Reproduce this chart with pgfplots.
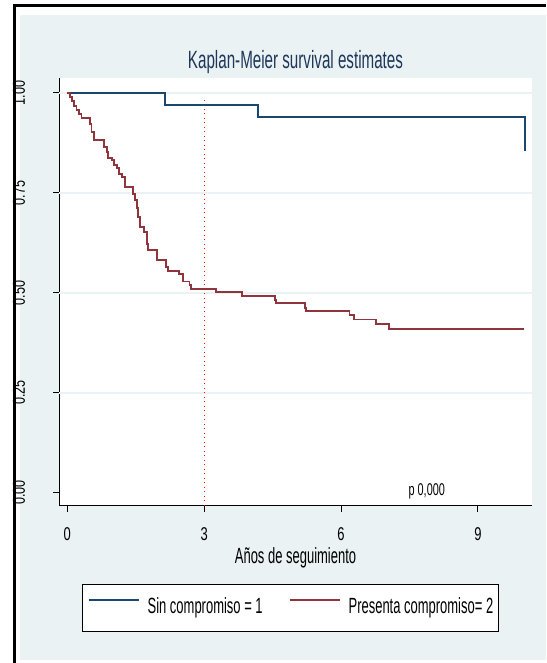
\documentclass[border=0pt]{standalone}
\usepackage{fontspec}
\usepackage{graphicx}
\usepackage{pgfplots}
\pgfplotsset{compat=1.18}
\setmainfont{Liberation Sans}
\newfontfamily\tkfont{Liberation Sans}[FakeStretch=0.70]
\newfontfamily\txfont{Liberation Sans}[FakeStretch=0.59]
\newfontfamily\ttfont{Liberation Sans}[FakeStretch=0.607]
\newfontfamily\pfont{Liberation Sans}[FakeStretch=0.64]
\definecolor{sblue}{RGB}{26,71,111}
\definecolor{sred}{RGB}{144,53,59}
\definecolor{bggray}{RGB}{234,242,243}
\definecolor{tcol}{RGB}{30,55,90}
\newcommand\yl[1]{\scalebox{1}[0.95]{#1}}
\newcommand\tkf{\tkfont\fontsize{18.5}{22}\selectfont}
\newcommand\txf{\txfont\fontsize{22}{26}\selectfont}

\begin{document}
\begin{tikzpicture}
\path[use as bounding box] (0pt,0pt) rectangle (546pt,663pt);
\fill[white] (0pt,0pt) rectangle (546pt,663pt);
\fill[bggray] (20pt,3pt) rectangle (546pt,647.5pt);
\begin{axis}[
 at={(59.3pt,157.3pt)}, anchor=south west,
 scale only axis, width=472.4pt, height=427.7pt,
 xmin=-0.175, xmax=10.18, ymin=-0.0325, ymax=1.037,
 axis x line*=bottom, axis y line*=left,
 axis line style={black, line width=1.1pt},
 axis background/.style={fill=white},
 tick align=outside, major tick length=6pt,
 tick style={black, line width=1pt},
 xtick={0,3,6,9}, xticklabels={0,3,6,9},
 ytick={0,0.25,0.5,0.75,1},
 yticklabels={\yl{0.00},\yl{0.25},\yl{0.50},\yl{0.75},\yl{1.00}},
 extra y ticks={0.25,0.5,0.75,1},
 extra y tick labels={},
 extra y tick style={grid=major, major tick length=0pt, grid style={bggray, line width=1.6pt}},
 xticklabel style={font=\tkf, inner sep=0pt, anchor=north, yshift=-16pt},
 yticklabel style={font=\tkfont\fontsize{18}{21}\selectfont, inner sep=0pt, xshift=-28.5pt, rotate=90, anchor=base},
 xlabel={Años de seguimiento},
 xlabel style={font=\txf, inner sep=0pt, at={(axis description cs:0.5,-0.134)}, anchor=base},
 legend columns=2,
 legend style={at={(axis description cs:0.4894,-0.183)}, anchor=north, draw=black, line width=0.8pt, fill=white,
   inner xsep=5pt, inner ysep=13pt, font=\txf, legend cell align=left,
   nodes={inner sep=0pt, text height=16pt, text depth=5pt},
   /tikz/every odd column/.append style={column sep=8pt},
   /tikz/every even column/.append style={column sep=26pt}},
 legend image code/.code={\draw[#1] (0pt,7.5pt) -- (50pt,7.5pt);},
]
\addplot[red, line width=0.9pt, dash pattern=on 1pt off 3.5pt, forget plot] coordinates {(3,-0.0325) (3,0.985)};
\addplot[sblue, line width=1.9pt, const plot] coordinates {
(0,1.000) (2.14,0.970) (4.18,0.940) (10.03,0.855)};
\addplot[sred, line width=1.9pt, const plot] coordinates {
(0,1.000) (0.055,0.990) (0.099,0.980) (0.143,0.967) (0.201,0.958) (0.253,0.948)
(0.311,0.936) (0.495,0.923) (0.531,0.903) (0.582,0.883) (0.809,0.865) (0.861,0.853)
(0.898,0.838) (0.971,0.832) (1.022,0.819) (1.095,0.811) (1.139,0.798) (1.205,0.790)
(1.264,0.765) (1.447,0.748) (1.484,0.732) (1.521,0.711) (1.557,0.690) (1.593,0.665)
(1.689,0.653) (1.740,0.623) (1.777,0.608) (1.974,0.582) (2.165,0.565) (2.216,0.555)
(2.451,0.547) (2.531,0.528) (2.678,0.519) (2.707,0.509) (3.250,0.501) (3.820,0.492)
(4.550,0.482) (4.580,0.475) (5.220,0.461) (5.235,0.455) (6.187,0.444) (6.275,0.433)
(6.758,0.422) (7.044,0.409) (10.02,0.409)};
\legend{Sin compromiso = 1, Presenta compromiso= 2}
\node[anchor=base, inner sep=0pt, font=\pfont\fontsize{17}{20}\selectfont] at (axis cs:7.88,-0.008) {p 0,000};
\end{axis}
\draw[black, line width=2.6pt] (14.3pt,0pt) -- (14.3pt,658.9pt);
\draw[black, line width=2.6pt] (13pt,657.7pt) -- (546pt,657.7pt);
\node[anchor=base, text=tcol, inner sep=0pt] at (295.5pt,594pt) {\ttfont\fontsize{25}{30}\selectfont Kaplan-Meier survival estimates};
\end{tikzpicture}
\end{document}
